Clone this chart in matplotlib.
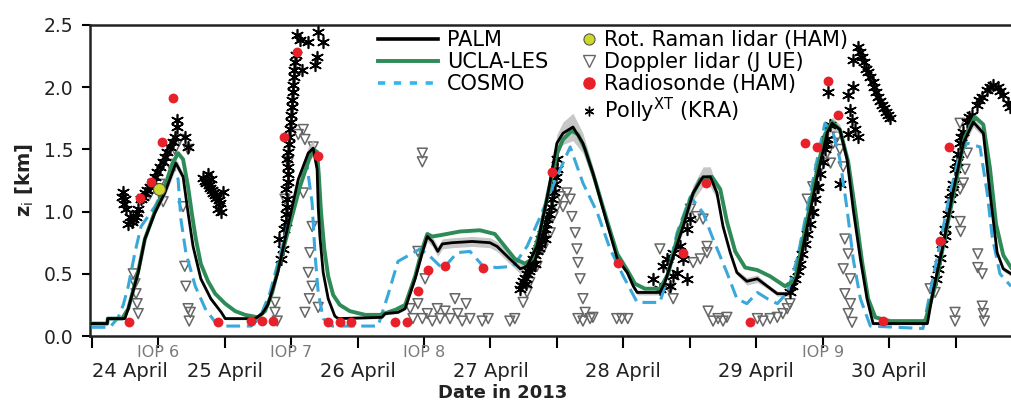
import matplotlib
matplotlib.use("Agg")
import matplotlib.pyplot as plt
import numpy as np
from matplotlib.lines import Line2D

# time axis in hours since 24 April 2013 00 UTC, heights in km
DAY_LABELS = ["24 April", "25 April", "26 April", "27 April", "28 April", "29 April", "30 April"]
IOP_HOURS = [12, 36, 60, 132]
IOP_LABELS = ["IOP 6", "IOP 7", "IOP 8", "IOP 9"]

PALM_H = [0, 2.8, 2.9, 6.0, 6.6, 8.4, 9.6, 11.4, 13.2, 15.2, 16.5, 17.4, 18.3, 19.7, 21.5, 23.4, 24.1, 29.5,
          30.8, 31.8, 33.6, 35.5, 37.3, 39.1, 40.0, 40.7, 40.9, 41.2, 41.8, 42.7, 43.9, 44.5, 52.4, 53.0,
          55.3, 56.6, 58.4, 59.7, 60.6, 61.5, 62.5, 63.3, 65.1, 68.7, 71.9, 73.2, 75.5, 77.4, 78.6, 80.4,
          82.2, 84.0, 85.1, 86.9, 88.7, 90.5, 93.1, 94.9, 96.7, 97.8, 98.5, 102.6, 103.5, 105.0, 106.8,
          108.6, 110.4, 111.7, 112.9, 114.0, 115.3, 116.5, 118.3, 120.2, 122.0, 123.8, 126.1, 127.4, 129.2,
          131.0, 132.8, 133.7, 135.1, 136.4, 137.5, 138.8, 140.0, 141.1, 150.9, 151.9, 153.7, 155.5, 157.4,
          159.2, 161.0, 162.2, 163.5, 164.6, 166.0]
PALM_Z = [0.10, 0.10, 0.14, 0.14, 0.22, 0.51, 0.78, 0.99, 1.15, 1.39, 1.28, 0.99, 0.72, 0.46, 0.30, 0.19,
          0.14, 0.14, 0.18, 0.25, 0.51, 0.90, 1.26, 1.47, 1.51, 1.34, 1.04, 0.80, 0.51, 0.30, 0.16, 0.14,
          0.15, 0.18, 0.19, 0.22, 0.46, 0.67, 0.80, 0.76, 0.68, 0.74, 0.75, 0.76, 0.75, 0.72, 0.62, 0.54,
          0.56, 0.72, 1.10, 1.55, 1.63, 1.68, 1.55, 1.31, 0.90, 0.62, 0.51, 0.40, 0.35, 0.35, 0.43, 0.64,
          0.88, 1.15, 1.28, 1.28, 1.15, 0.88, 0.67, 0.51, 0.44, 0.46, 0.40, 0.34, 0.34, 0.48, 0.88, 1.28,
          1.63, 1.71, 1.66, 1.42, 1.02, 0.62, 0.30, 0.10, 0.10, 0.35, 0.72, 1.15, 1.55, 1.72, 1.63, 1.15,
          0.67, 0.54, 0.50]
# ensemble spread shown as grey band around PALM
PALM_SPREAD = [0.01, 0.01, 0.01, 0.01, 0.01, 0.02, 0.02, 0.02, 0.03, 0.04,
               0.03, 0.02, 0.02, 0.02, 0.02, 0.01, 0.01, 0.01, 0.01, 0.01,
               0.02, 0.02, 0.03, 0.05, 0.07, 0.05, 0.03, 0.02, 0.02, 0.02,
               0.01, 0.01, 0.01, 0.01, 0.01, 0.01, 0.02, 0.03, 0.04, 0.04,
               0.04, 0.04, 0.04, 0.04, 0.04, 0.04, 0.04, 0.04, 0.03, 0.03,
               0.04, 0.07, 0.09, 0.11, 0.08, 0.05, 0.03, 0.02, 0.02, 0.02,
               0.02, 0.02, 0.02, 0.03, 0.04, 0.06, 0.08, 0.08, 0.05, 0.03,
               0.02, 0.02, 0.03, 0.03, 0.02, 0.02, 0.02, 0.02, 0.02, 0.03,
               0.04, 0.05, 0.04, 0.03, 0.02, 0.02, 0.01, 0.01, 0.01, 0.01,
               0.02, 0.02, 0.03, 0.04, 0.03, 0.03, 0.02, 0.02, 0.02]

UCLA_H = [0, 2.8, 2.9, 5.5, 6.6, 8.4, 9.6, 11.4, 13.2, 14.5, 15.6, 16.5, 17.4, 18.1, 18.8, 19.7, 21.0, 22.3,
          24.1, 25.9, 27.7, 30.0, 31.3, 32.6, 34.0, 35.8, 37.6, 39.1, 40.0, 40.7, 41.0, 41.4, 42.0, 42.7,
          43.6, 44.8, 46.6, 49.4, 52.1, 54.8, 56.6, 58.4, 59.7, 60.6, 61.5, 62.9, 66.5, 70.1, 72.8, 74.6,
          76.4, 78.3, 79.5, 81.0, 82.4, 83.9, 85.1, 86.7, 87.8, 89.1, 90.9, 93.1, 94.9, 96.7, 98.1, 99.9,
          102.6, 104.1, 105.9, 108.1, 109.9, 112.0, 113.5, 114.7, 116.2, 118.0, 120.2, 122.5, 125.2, 127.0,
          128.8, 130.6, 132.4, 133.7, 135.1, 136.6, 137.9, 139.1, 140.2, 141.5, 144.2, 150.5, 152.3, 154.1,
          155.9, 157.7, 159.5, 161.0, 162.2, 163.3, 164.6, 166.0]
UCLA_Z = [0.10, 0.10, 0.14, 0.14, 0.22, 0.52, 0.78, 1.00, 1.20, 1.38, 1.47, 1.42, 1.20, 0.98, 0.78, 0.58,
          0.44, 0.34, 0.26, 0.20, 0.17, 0.15, 0.20, 0.35, 0.60, 0.90, 1.20, 1.40, 1.50, 1.48, 1.30, 1.00,
          0.70, 0.48, 0.33, 0.25, 0.20, 0.17, 0.17, 0.21, 0.25, 0.48, 0.70, 0.82, 0.80, 0.81, 0.84, 0.85,
          0.82, 0.72, 0.62, 0.58, 0.62, 0.85, 1.15, 1.45, 1.58, 1.65, 1.62, 1.50, 1.25, 0.92, 0.66, 0.53,
          0.42, 0.38, 0.38, 0.50, 0.82, 1.10, 1.26, 1.28, 1.18, 0.92, 0.68, 0.55, 0.53, 0.48, 0.40, 0.45,
          0.85, 1.25, 1.62, 1.72, 1.66, 1.40, 1.00, 0.60, 0.30, 0.15, 0.12, 0.12, 0.40, 0.80, 1.20, 1.60,
          1.76, 1.70, 1.35, 0.90, 0.65, 0.55]

COSMO_H = [0, 3.3, 4.8, 5.7, 6.6, 7.8, 8.9, 11.4, 13.2, 14.7, 15.6, 16.1, 17.0, 18.7, 20.5, 22.3, 24.1, 28.8,
           30.4, 32.2, 34.0, 35.8, 37.6, 38.9, 39.8, 40.3, 40.9, 41.8, 43.4, 51.7, 53.5, 55.3, 59.3, 61.1,
           63.4, 66.0, 68.3, 70.7, 73.2, 76.1, 78.6, 81.0, 84.0, 86.4, 88.7, 91.3, 93.6, 96.0, 98.5, 102.6,
           103.5, 105.7, 108.1, 110.4, 112.2, 114.7, 116.5, 118.3, 120.2, 122.0, 123.8, 125.6, 127.4, 129.2,
           131.0, 132.4, 133.9, 135.1, 136.4, 137.5, 138.8, 140.6, 150.1, 151.4, 153.2, 155.0, 156.8, 158.1,
           160.4, 161.7, 162.6, 164.0, 166.0]
COSMO_Z = [0.07, 0.07, 0.15, 0.25, 0.40, 0.67, 0.88, 1.04, 1.20, 1.36, 1.26, 0.94, 0.67, 0.40, 0.22, 0.11,
           0.08, 0.08, 0.15, 0.35, 0.65, 0.95, 1.25, 1.36, 1.07, 0.67, 0.35, 0.14, 0.08, 0.08, 0.33, 0.60,
           0.70, 0.64, 0.54, 0.67, 0.68, 0.56, 0.55, 0.56, 0.72, 0.96, 1.28, 1.52, 1.23, 0.99, 0.70, 0.48,
           0.27, 0.27, 0.40, 0.83, 1.12, 0.99, 0.78, 0.51, 0.30, 0.26, 0.35, 0.30, 0.26, 0.35, 0.62, 1.02,
           1.42, 1.71, 1.63, 1.42, 1.02, 0.62, 0.30, 0.08, 0.06, 0.35, 0.75, 1.15, 1.47, 1.55, 1.52, 1.15,
           0.80, 0.50, 0.40]

RAMAN_H = [12.2]
RAMAN_Z = [1.18]

SONDE_H = [6.7, 8.7, 10.7, 12.7, 14.7, 22.8, 28.8, 30.8, 32.7, 34.7, 37.1, 40.9, 42.7, 44.8, 46.8, 54.8,
           56.9, 58.9, 60.7, 63.8, 70.7, 83.1, 95.0, 106.8, 110.9, 118.9, 128.8, 131.0, 133.0, 134.8, 142.9,
           153.2, 154.8]
SONDE_Z = [0.11, 1.11, 1.24, 1.56, 1.91, 0.11, 0.12, 0.12, 0.12, 1.60, 2.28, 1.45, 0.11, 0.11, 0.11, 0.11,
           0.11, 0.36, 0.53, 0.56, 0.55, 1.32, 0.59, 0.67, 1.23, 0.11, 1.55, 1.52, 2.05, 1.78, 0.12,
           0.76, 1.52]

POLLY_H = [5.7, 6.0, 6.2, 6.9, 7.5, 8.0, 8.4, 8.9, 9.6, 10.5, 11.4, 12.3, 13.2, 14.1, 15.0, 15.4, 15.4, 16.8,
           17.4, 6.6, 5.5, 5.8, 7.2, 8.2, 9.2, 10.0, 11.0, 11.8, 12.8, 13.6, 14.6,
           20.1, 20.6, 21.4, 21.9, 22.5, 23.2, 23.4, 23.7, 21.5, 21.0, 22.8, 20.4, 21.1, 21.7, 22.2, 22.9,
           33.8, 34.7, 35.1, 35.3, 35.1, 35.5, 35.3, 35.6, 35.8, 36.0, 36.2, 36.4, 36.5, 36.9, 37.1, 38.0,
           39.1, 40.9, 41.8, 40.7, 40.3, 37.6, 34.2, 34.6, 35.0, 35.2, 35.4, 35.4, 35.5, 35.7, 35.9, 36.1,
           36.3, 36.5, 36.7,
           77.4, 77.9, 78.6, 79.1, 79.7, 80.4, 80.9, 81.5, 82.0, 82.6, 83.1, 83.7, 84.0, 84.0, 78.4, 80.1, 81.9,
           77.6, 78.2, 78.9, 79.4, 80.0, 80.7, 81.2, 81.8, 82.3, 82.9, 83.4, 83.8,
           101.4, 103.2, 105.0, 106.3, 106.8, 105.7, 107.5, 107.5, 108.1, 105.0, 104.4, 102.6, 103.9,
           126.1, 127.0, 127.9, 128.8, 129.7, 130.6, 131.5, 132.4, 132.8, 133.4, 133.0, 135.1, 130.1, 131.2,
           126.5, 127.5, 128.3, 129.2, 130.2, 131.0, 132.0, 132.6,
           138.4, 139.1, 139.8, 140.6, 141.3, 142.0, 142.7, 143.4, 144.2, 137.5, 137.5, 136.6, 137.0, 137.3,
           137.9, 136.6, 138.4, 138.8, 139.5, 140.2, 141.0, 141.7, 142.4, 143.0, 143.8,
           152.9, 153.2, 153.6, 154.1, 154.6, 155.0, 155.5, 155.9, 156.5, 156.8, 157.4, 158.1, 159.0, 159.9,
           160.8, 161.7, 162.8, 163.7, 164.6, 165.5, 152.5, 154.0, 155.3, 156.2, 157.0, 158.5, 160.3, 162.2,
           164.0, 165.8]
POLLY_Z = [1.16, 1.10, 1.02, 0.96, 0.94, 0.96, 1.02, 1.10, 1.15, 1.20, 1.28, 1.36, 1.44, 1.52, 1.60, 1.74,
           1.68, 1.60, 1.52, 0.90, 1.12, 1.06, 0.92, 0.99, 1.12, 1.17, 1.24, 1.32, 1.40, 1.48, 1.56,
           1.27, 1.23, 1.19, 1.15, 1.11, 1.07, 1.00, 1.16, 1.26, 1.30, 1.02, 1.25, 1.21, 1.17, 1.13, 1.09,
           0.78, 0.86, 0.98, 1.10, 1.18, 1.30, 1.42, 1.54, 1.66, 1.78, 1.90, 2.02, 2.14, 2.26, 2.42, 2.14,
           2.36, 2.44, 2.36, 2.24, 2.18, 2.38, 0.62, 0.70, 0.92, 1.04, 1.24, 1.36, 1.48, 1.60, 1.72, 1.84,
           1.96, 2.08, 2.20,
           0.38, 0.44, 0.50, 0.55, 0.62, 0.68, 0.74, 0.82, 0.90, 0.98, 1.10, 1.22, 1.34, 1.42, 0.42, 0.58, 0.78,
           0.41, 0.47, 0.52, 0.58, 0.65, 0.71, 0.78, 0.86, 0.94, 1.04, 1.16, 1.28,
           0.46, 0.56, 0.67, 0.72, 0.62, 0.51, 0.46, 0.86, 0.94, 0.48, 0.40, 0.38, 0.62,
           0.35, 0.46, 0.58, 0.74, 0.90, 1.10, 1.30, 1.50, 1.58, 1.70, 1.96, 1.22, 1.00, 1.20,
           0.40, 0.52, 0.66, 0.82, 1.00, 1.20, 1.40, 1.54,
           2.32, 2.24, 2.15, 2.08, 2.00, 1.92, 1.86, 1.80, 1.75, 2.22, 2.00, 1.94, 1.82, 1.74,
           1.66, 1.62, 1.60, 2.28, 2.20, 2.12, 2.04, 1.96, 1.89, 1.83, 1.78,
           0.54, 0.63, 0.74, 0.86, 0.98, 1.10, 1.22, 1.34, 1.46, 1.55, 1.64, 1.72, 1.78, 1.86,
           1.92, 1.98, 2.02, 2.00, 1.94, 1.87, 0.46, 0.80, 1.16, 1.40, 1.60, 1.76, 1.90, 2.00,
           1.97, 1.84]

DOPPLER_H = [7.5, 7.8, 8.0, 8.2, 8.4, 10.5, 12.3, 12.9, 14.1, 15.0, 15.9, 17.4, 16.5, 16.8, 17.0, 17.4, 17.8,
             17.6,
             33.1, 33.1, 33.5, 34.9, 35.5, 37.3, 38.2, 38.5, 40.0, 38.2, 39.8, 39.4, 39.1, 39.8, 38.5, 40.9,
             39.3,
             59.7, 59.7, 58.9, 60.2, 57.5, 58.0, 58.9, 59.7, 60.6, 61.5, 62.4, 62.9, 63.8, 64.7, 65.6, 66.1,
             66.9, 67.6, 68.3, 70.5, 71.6, 75.5, 76.4,
             77.9, 78.6, 79.1, 80.4, 81.5, 82.8, 83.3, 84.0, 84.6, 85.8, 86.4, 85.1, 86.7, 87.3, 87.6, 87.8,
             88.2, 88.7, 89.1, 87.8, 90.0, 88.7, 90.5, 94.8, 95.7, 96.8,
             102.6, 103.9, 104.4, 105.0, 108.1, 109.3, 110.4, 111.1, 109.9, 111.1, 108.6, 111.3, 112.2, 113.1,
             114.0, 114.7, 120.2, 121.2, 122.5, 123.8, 124.8, 125.6, 126.1,
             129.2, 130.2, 131.5, 132.8, 133.9, 133.4, 135.1, 135.7, 134.6, 136.0, 136.6, 135.7, 137.0, 136.0,
             137.0, 136.6, 137.3,
             152.3, 151.4, 156.8, 158.1, 157.7, 157.4, 156.8, 156.8, 156.9, 160.0, 160.0, 160.8, 155.9, 155.9,
             160.8, 161.0, 161.2]
DOPPLER_Z = [0.50, 0.42, 0.34, 0.26, 0.18, 1.14, 1.22, 1.08, 1.38, 1.50, 1.58, 1.50, 1.04, 0.56, 0.40, 0.22,
             0.19, 0.12,
             0.27, 0.19, 0.12, 1.10, 1.40, 1.62, 1.66, 1.58, 1.52, 1.15, 0.88, 0.67, 0.51, 0.40, 0.19, 0.23,
             0.30,
             1.47, 1.40, 0.68, 0.46, 0.22, 0.14, 0.26, 0.14, 0.18, 0.12, 0.22, 0.14, 0.20, 0.14, 0.30, 0.18,
             0.12, 0.26, 0.14, 0.12, 0.14, 0.12, 0.14,
             0.27, 0.35, 0.43, 0.56, 0.70, 0.83, 0.96, 1.04, 1.12, 1.15, 1.10, 1.04, 0.96, 0.83, 0.70, 0.59,
             0.46, 0.30, 0.19, 0.14, 0.14, 0.12, 0.15, 0.14, 0.14, 0.14,
             0.70, 0.56, 0.38, 0.30, 1.02, 0.96, 0.94, 0.72, 0.62, 0.67, 0.59, 0.20, 0.12, 0.14,
             0.12, 0.15, 0.14, 0.12, 0.14, 0.15, 0.18, 0.22, 0.26,
             1.10, 1.20, 1.34, 1.47, 1.55, 1.39, 1.50, 1.36, 1.60, 0.78, 0.66, 0.54, 0.46, 0.34,
             0.26, 0.18, 0.11,
             0.35, 0.38, 1.71, 1.47, 1.34, 1.23, 1.18, 0.92, 0.84, 0.66, 0.55, 0.50, 0.19, 0.12,
             0.24, 0.18, 0.12]

C_UCLA = "#2e8b57"
C_COSMO = "#3aa8da"
C_SONDE = "#e8202a"
C_RAMAN = "#ccd92a"
C_DOPPLER = "#666666"
POLLY_MARKER = (6, 2, 0)  # asterisk

fig = plt.figure(figsize=(10.11, 4.04), dpi=100)
ax = fig.add_axes([90 / 1011, 68 / 404, 921 / 1011, 311 / 404])

palm_z = np.array(PALM_Z)
spread = np.array(PALM_SPREAD)
ax.fill_between(PALM_H, palm_z - spread, palm_z + spread, color="#bdbdbd", alpha=0.85, lw=0, zorder=2)
ax.scatter(DOPPLER_H, DOPPLER_Z, marker="v", s=50, facecolors="none", edgecolors=C_DOPPLER,
           linewidths=1.1, zorder=1)
ax.scatter(POLLY_H, POLLY_Z, marker=POLLY_MARKER, s=70, c="black", linewidths=1.2, zorder=3)
ax.plot(COSMO_H, COSMO_Z, color=C_COSMO, lw=2.2, dashes=(4.5, 2.2), zorder=4)
ax.plot(UCLA_H, UCLA_Z, color=C_UCLA, lw=2.8, zorder=5)
ax.plot(PALM_H, PALM_Z, color="black", lw=2.0, zorder=6)
ax.scatter(SONDE_H, SONDE_Z, s=50, color=C_SONDE, linewidths=0, zorder=7)
ax.scatter(RAMAN_H, RAMAN_Z, s=75, color=C_RAMAN, edgecolors="#555555", linewidths=0.8, zorder=8)

ax.set_xlim(-0.31, 166.0)
ax.set_ylim(0, 2.5)
ax.set_yticks(np.arange(0, 2.51, 0.5))
ax.set_yticklabels([f"{v:.1f}" for v in np.arange(0, 2.51, 0.5)])
ax.set_xticks(np.arange(0, 145, 24))
ax.set_xticklabels(DAY_LABELS)
ax.set_xticks(np.arange(12, 166, 24), minor=True)
ax.xaxis.get_ticklabels()[0].set_horizontalalignment("left")
ax.tick_params(axis="x", which="both", direction="out", length=8.6, width=1.5, pad=10, labelsize=14,
               colors="black", labelcolor="#222222")
ax.tick_params(axis="y", direction="out", length=5.8, width=1.5, pad=6, labelsize=13.5,
               labelcolor="#222222")
ax.xaxis.get_minor_ticks()[3].tick1line.set_color("#bbbbbb")
for side in ("left", "top", "bottom"):
    ax.spines[side].set_linewidth(1.8)
    ax.spines[side].set_color("#222222")
ax.spines["right"].set_visible(False)

for h, lab in zip(IOP_HOURS, IOP_LABELS):
    ax.text(h, -0.052, lab, transform=ax.get_xaxis_transform(), ha="center", va="center",
            fontsize=11.5, color="#7a7a7a")

fig.text(503 / 1011, 1 - 393 / 404, "Date in 2013", ha="center", va="center", fontsize=13,
         fontweight="bold", color="#222222")
fig.text(25 / 1011, 1 - 180 / 404, r"$\mathbf{z}_\mathrm{i}$ [km]", rotation=90, ha="center",
         va="center", fontsize=14, fontweight="bold", color="#222222")

model_handles = [
    Line2D([], [], color="black", lw=2.6),
    Line2D([], [], color=C_UCLA, lw=2.8),
    Line2D([], [], color="#33b6ea", lw=2.6, dashes=(2, 2.4)),
]
fig.legend(model_handles, ["PALM", "UCLA-LES", "COSMO"], loc="upper left",
           bbox_to_anchor=(378 / 1011, 1 - 30 / 404), frameon=False, fontsize=15, handlelength=2.9,
           handletextpad=0.43, labelspacing=0.1, borderpad=0, borderaxespad=0)

obs_handles = [
    Line2D([], [], ls="none", marker="o", ms=8, mfc=C_RAMAN, mec="#555555", mew=0.8),
    Line2D([], [], ls="none", marker="v", ms=9, mfc="none", mec=C_DOPPLER, mew=1.0),
    Line2D([], [], ls="none", marker="o", ms=8, mfc=C_SONDE, mec=C_SONDE),
    Line2D([], [], ls="none", marker=POLLY_MARKER, ms=7, mec="black", mew=1.0),
]
fig.legend(obs_handles, ["Rot. Raman lidar (HAM)", "Doppler lidar (J UE)", "Radiosonde (HAM)",
                         r"Polly$^{\mathrm{XT}}$ (KRA)"],
           loc="upper left", bbox_to_anchor=(581 / 1011, 1 - 30 / 404), frameon=False, fontsize=15,
           handlelength=0.8, handletextpad=0.3, labelspacing=0.1, borderpad=0, borderaxespad=0)

fig.savefig("out.png", dpi=100)
